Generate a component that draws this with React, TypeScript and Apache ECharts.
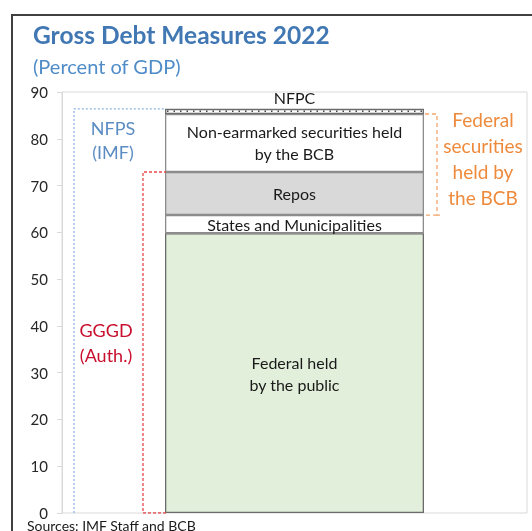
import React, { useEffect, useRef } from "react";
import * as echarts from "echarts";

const categories = ["2022"];
const seriesNames = [
  "Federal held\nby the public",
  "States and Municipalities",
  "Repos",
  "Non-earmarked securities held\nby the BCB",
  "NFPC",
];
const federalHeld = [59.8];
const statesMunicipalities = [3.9];
const repos = [9.2];
const nonEarmarked = [12.4];
const nfpc = [1.1];
const yTicks = [0, 10, 20, 30, 40, 50, 60, 70, 80, 90];

const FONT = "Lato, 'Noto Sans', sans-serif";

export default function App() {
  const ref = useRef<HTMLDivElement>(null);
  useEffect(() => {
    if (!ref.current) return;
    const chart = echarts.init(ref.current, undefined, { renderer: "svg" });

    const lvlStatesBase = federalHeld[0];
    const lvlRepoBase = lvlStatesBase + statesMunicipalities[0];
    const lvlGGGD = lvlRepoBase + repos[0];
    const lvlNonEar = lvlGGGD + nonEarmarked[0];
    const lvlNFPS = lvlNonEar + nfpc[0];

    const barColors = ["#E2EFDA", "#FFFFFF", "#D9D9D9", "#FFFFFF", "#FFFFFF"];
    const barBorders = ["#6B6B6B", "#8C8C8C", "#8C8C8C", "#8C8C8C", "#6B6B6B"];
    const barData = [federalHeld, statesMunicipalities, repos, nonEarmarked, nfpc];

    const bars = barData.map((d, i) => ({
      type: "bar",
      name: seriesNames[i],
      stack: "total",
      xAxisIndex: 0,
      yAxisIndex: 0,
      barWidth: 259,
      data: d,
      itemStyle: {
        color: barColors[i],
        borderColor: barBorders[i],
        borderWidth: 1.3,
      },
      label: {
        show: true,
        position: i === 4 ? "top" : "inside",
        distance: i === 4 ? 0 : 5,
        formatter: () => seriesNames[i],
        color: "#1a1a1a",
        fontFamily: FONT,
        fontSize: 16,
        lineHeight: 22,
        align: "center",
      },
      emphasis: { disabled: true },
    }));

    const lineBase = {
      type: "line",
      xAxisIndex: 1,
      yAxisIndex: 0,
      symbol: "none",
      silent: true,
    };

    chart.setOption({
      animation: false,
      grid: {
        left: 62,
        right: 5,
        top: 92,
        bottom: 18,
        show: true,
        borderColor: "#D9D9D9",
        borderWidth: 1,
        containLabel: false,
      },
      xAxis: [
        {
          type: "category",
          data: categories,
          axisLine: { show: false },
          axisTick: { show: false },
          axisLabel: { show: false },
        },
        {
          type: "value",
          min: 0,
          max: 465,
          show: false,
        },
      ],
      yAxis: {
        type: "value",
        min: yTicks[0],
        max: yTicks[yTicks.length - 1],
        interval: 10,
        axisLine: { show: true, lineStyle: { color: "#D9D9D9", width: 1 } },
        axisTick: { show: true, length: 5, lineStyle: { color: "#D9D9D9" } },
        splitLine: { show: false },
        axisLabel: {
          color: "#262626",
          fontFamily: FONT,
          fontSize: 15,
          margin: 14,
        },
      },
      series: [
        ...bars,
        {
          ...lineBase,
          data: [
            [105, lvlNFPS - nfpc[0] * 0.45],
            [362, lvlNFPS - nfpc[0] * 0.45],
          ],
          lineStyle: { color: "#444", width: 1.5, type: [1.5, 5] },
        },
        {
          ...lineBase,
          data: [
            [12, 0],
            [12, lvlNFPS],
            [104, lvlNFPS],
          ],
          lineStyle: { color: "#8DB4E2", width: 1.3, type: [2, 2] },
        },
        {
          ...lineBase,
          data: [
            [104, 0],
            [81, 0],
            [81, lvlGGGD],
            [104, lvlGGGD],
          ],
          lineStyle: { color: "#E8474B", width: 1.3, type: [3, 2] },
        },
        {
          ...lineBase,
          data: [
            [363, lvlNonEar],
            [375, lvlNonEar],
            [375, lvlRepoBase],
            [378, lvlRepoBase],
            [363, lvlRepoBase],
          ],
          lineStyle: { color: "#F4A46C", width: 1.3, type: [4, 3] },
        },
      ],
      graphic: [
        {
          type: "rect",
          shape: { x: 12, y: 15, width: 600, height: 600 },
          style: { fill: "none", stroke: "#404040", lineWidth: 2 },
          silent: true,
        },
        {
          type: "text",
          x: 33,
          y: 22,
          style: {
            text: "Gross Debt Measures 2022",
            fill: "#4178B4",
            font: `bold 24.5px ${FONT}`,
          },
        },
        {
          type: "text",
          x: 33,
          y: 56,
          style: {
            text: "(Percent of GDP)",
            fill: "#4F8CC8",
            font: `20px ${FONT}`,
          },
        },
        {
          type: "text",
          x: 113,
          y: 116,
          style: {
            text: "NFPS\n(IMF)",
            fill: "#5B8DC3",
            font: `18px ${FONT}`,
            lineHeight: 24,
            align: "center",
          },
        },
        {
          type: "text",
          x: 106,
          y: 317,
          style: {
            text: "GGGD\n(Auth.)",
            fill: "#C8102E",
            font: `18px ${FONT}`,
            lineHeight: 25,
            align: "center",
          },
        },
        {
          type: "text",
          x: 483,
          y: 106,
          style: {
            text: "Federal\nsecurities\nheld by\nthe BCB",
            fill: "#EE8A3C",
            font: `19px ${FONT}`,
            lineHeight: 26,
            align: "center",
          },
        },
        {
          type: "text",
          x: 27,
          y: 518,
          style: {
            text: "Sources: IMF Staff and BCB",
            fill: "#1a1a1a",
            font: `14px ${FONT}`,
          },
        },
      ],
    });
    return () => chart.dispose();
  }, []);
  return (
    <div
      ref={ref}
      style={{ position: "fixed", left: 0, top: 0, width: 532, height: 531 }}
    />
  );
}
